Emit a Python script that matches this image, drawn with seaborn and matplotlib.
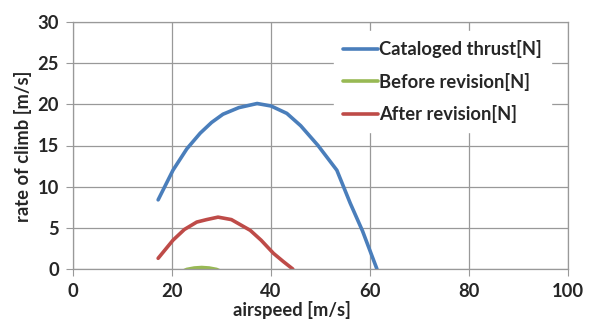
import matplotlib
matplotlib.use('Agg')
import matplotlib.pyplot as plt
import seaborn as sb
import pandas as pd

# values
speedCatalog = [17.2, 20.2, 23.0, 25.7, 28.0, 30.3, 33.5, 37.2, 40.0, 43.2, 46.0, 49.5, 53.3, 56.0, 58.5, 61.4]
climbCatalog = [8.4, 12.0, 14.6, 16.5, 17.8, 18.8, 19.6, 20.1, 19.8, 18.9, 17.4, 15.0, 12.0, 8.0, 4.6, 0.0]

speedBefore = [21.0, 23.0, 24.5, 26.0, 27.5, 29.0, 31.0]
climbBefore = [-0.6, -0.05, 0.12, 0.18, 0.12, -0.05, -0.6]

speedAfter = [17.2, 20.2, 22.5, 25.0, 27.0, 29.3, 32.0, 35.8, 38.0, 40.5, 42.5, 44.4]
climbAfter = [1.3, 3.5, 4.8, 5.7, 6.0, 6.3, 6.0, 4.7, 3.5, 1.9, 0.9, 0.0]

seriesNames = ['Cataloged thrust[N]', 'Before revision[N]', 'After revision[N]']
seriesColors = ['#4a7ebb', '#98b954', '#be4b48']

frames = []
for name, xs, ys in zip(seriesNames, [speedCatalog, speedBefore, speedAfter],
                        [climbCatalog, climbBefore, climbAfter]):
    frames.append(pd.DataFrame({'airspeed': xs, 'climb': ys, 'series': name}))
df = pd.concat(frames, ignore_index=True)

sb.set_style('white')
plt.rcParams['font.family'] = ['Lato', 'DejaVu Sans']
plt.rcParams['font.weight'] = 'bold'

fs = 13.2
fig = plt.figure(figsize=(5.9, 3.2), dpi=100)
ax = fig.add_axes([73/590, 1-269/320, (568-73)/590, (269-22)/320])

sb.lineplot(data=df, x='airspeed', y='climb', hue='series', hue_order=seriesNames,
            palette=seriesColors, linewidth=2.6, sort=False, estimator=None, ax=ax)

ax.set_xlim(0, 100)
ax.set_ylim(0, 30)
ax.set_xticks(range(0, 101, 20))
ax.set_yticks(range(0, 31, 5))
ax.grid(True, color='#999999', linewidth=0.9)
ax.set_axisbelow(True)
for s in ax.spines.values():
    s.set_color('#999999')
    s.set_linewidth(0.9)
ax.tick_params(axis='both', which='major', length=5, color='#999999', direction='out',
               labelsize=fs, left=True, bottom=True)
ax.tick_params(axis='x', pad=5)
ax.tick_params(axis='y', pad=5)
for lab in ax.get_xticklabels() + ax.get_yticklabels():
    lab.set_fontweight('bold')
ax.set_xlabel('airspeed [m/s]', fontsize=fs, fontweight='bold', va='bottom')
ax.xaxis.set_label_coords(292/590, 1-319/320, transform=fig.transFigure)
ax.set_ylabel('rate of climb [m/s]', fontsize=fs, fontweight='bold', va='center')
ax.yaxis.set_label_coords(23/590, 1-146/320, transform=fig.transFigure)

leg = ax.legend(loc='upper right', bbox_to_anchor=(0.985, 1.0), frameon=True,
                fontsize=fs, handlelength=1.9, handletextpad=0.1, labelspacing=0.78,
                borderpad=0.5, fancybox=False)
leg.get_frame().set_edgecolor('white')
leg.get_frame().set_facecolor('white')
leg.get_frame().set_alpha(1)
for t in leg.get_texts():
    t.set_fontweight('bold')

fig.savefig('out.png', dpi=100)
